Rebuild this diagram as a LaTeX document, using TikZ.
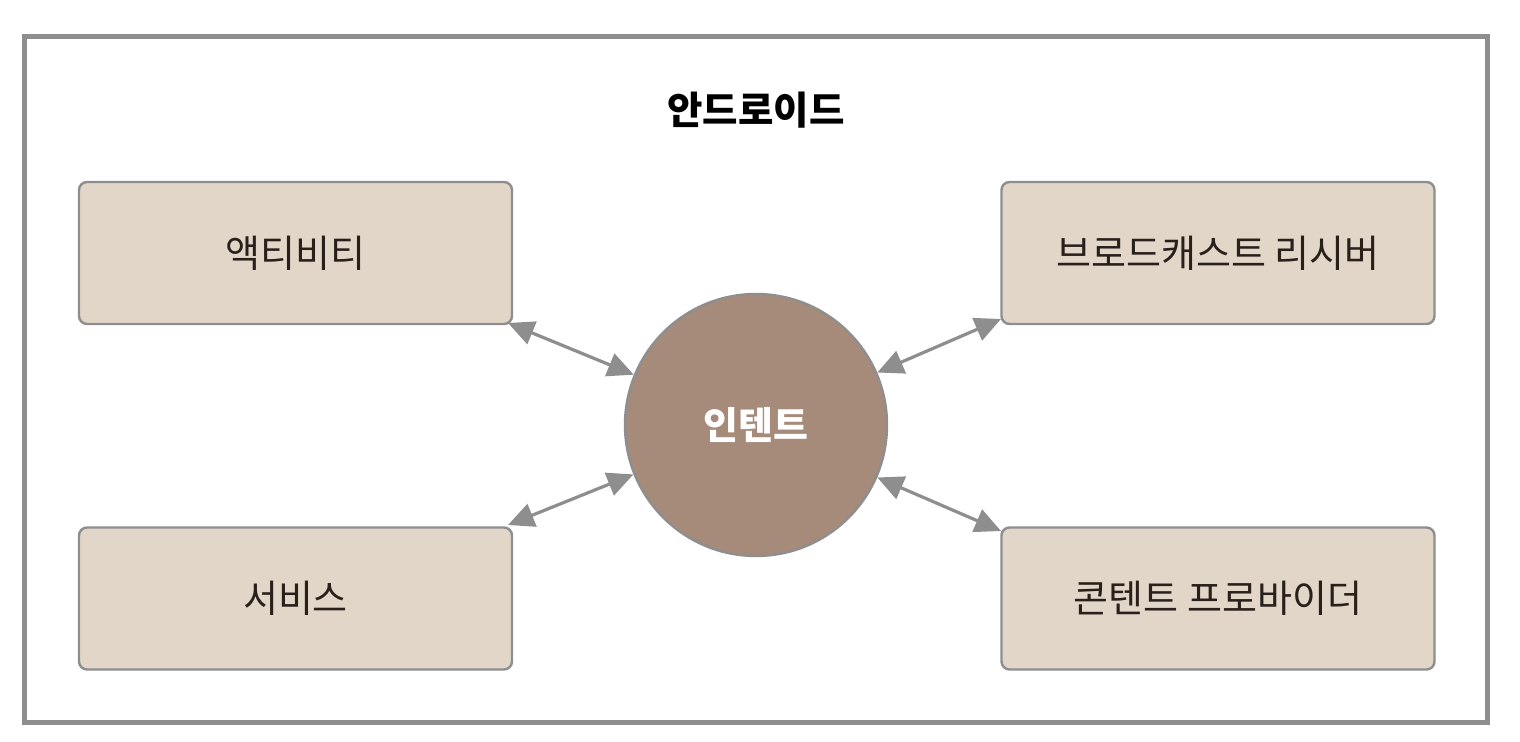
\documentclass[tikz,border=0pt]{standalone}
\usepackage{fontspec}
\setmainfont{Noto Sans CJK KR}
\usetikzlibrary{arrows.meta}
\definecolor{framegray}{HTML}{8E8E8E}
\definecolor{boxfill}{HTML}{E2D6C8}
\definecolor{circfill}{HTML}{A68B7A}
\definecolor{txtdark}{HTML}{2A201B}
\tikzset{
  compbox/.style={draw=framegray, line width=1.2pt, fill=boxfill, rounded corners=4pt,
    minimum width=216.5pt, minimum height=71pt, inner sep=0pt,
    font=\fontsize{19pt}{23pt}\selectfont, text=txtdark},
  hub/.style={circle, draw=framegray, line width=1.2pt, fill=circfill,
    minimum size=131pt, inner sep=0pt, text=white,
    font=\fontsize{19pt}{23pt}\selectfont\bfseries},
  link/.style={draw=framegray, line width=1.6pt,
    {Triangle[length=13pt,width=12pt]}-{Triangle[length=13pt,width=12pt]}}
}
\begin{document}
\begin{tikzpicture}[x=0.5pt,y=-0.5pt]
\useasboundingbox (0,0) rectangle (1520,742);
\draw[framegray, line width=2.5pt] (24.5,36.5) rectangle (1487,722);
\node[font=\fontsize{19.25pt}{23pt}\selectfont\bfseries, text=black] (title) at (756,110) {안드로이드};
\node[compbox] (act) at (295.5,253) {액티비티};
\node[compbox] (svc) at (295.5,598.5) {서비스};
\node[compbox] (brd) at (1218,253) {브로드캐스트 리시버};
\node[compbox] (cpv) at (1218,598.5) {콘텐트 프로바이더};
\node[hub] (intent) at (756,425) {인텐트};
\coordinate (a1) at (508,323);
\coordinate (a2) at (508,525);
\coordinate (a3) at (1001,319);
\coordinate (a4) at (1001,531);
\draw[link] (a1) -- (intent);
\draw[link] (a2) -- (intent);
\draw[link] (a3) -- (intent);
\draw[link] (a4) -- (intent);
\end{tikzpicture}
\end{document}
